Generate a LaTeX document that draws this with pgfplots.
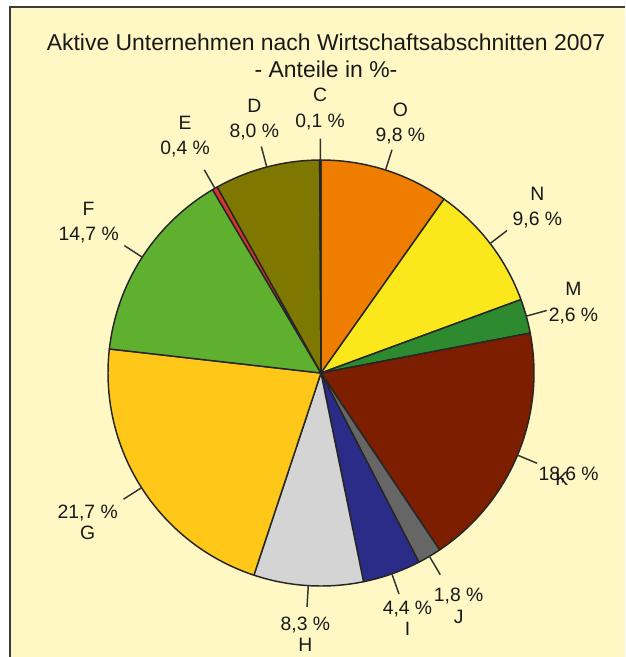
\documentclass[border=0pt]{standalone}
\usepackage{pgfplots}
\usepackage{pgfplotstable}
\pgfplotsset{compat=1.18}
\usepgfplotslibrary{polar}
\usepackage{fontspec}
\setmainfont{Liberation Sans}

\definecolor{bgyel}{HTML}{FFF8C5}
\definecolor{frame}{HTML}{3C3C3C}
\definecolor{cO}{HTML}{EE7D00}
\definecolor{cN}{HTML}{FAE81C}
\definecolor{cM}{HTML}{2E8A2E}
\definecolor{cK}{HTML}{7D1E00}
\definecolor{cJ}{HTML}{666666}
\definecolor{cI}{HTML}{2B2B88}
\definecolor{cH}{HTML}{D4D4D4}
\definecolor{cG}{HTML}{FFC718}
\definecolor{cF}{HTML}{60B030}
\definecolor{cE}{HTML}{D9362B}
\definecolor{cD}{HTML}{7F7800}
\definecolor{cC}{HTML}{1A1A1A}

% name, share in %, colour, label distance (radii), label layout
\pgfplotstableread[col sep=comma]{
name,value,color,lr,mode
O,9.8,cO,1.23,0
N,9.6,cN,1.28,0
M,2.6,cM,1.23,0
K,18.6,cK,1.26,2
J,1.8,cJ,1.27,1
I,4.4,cI,1.22,1
H,8.3,cH,1.23,1
G,21.7,cG,1.30,1
F,14.7,cF,1.30,0
E,0.4,cE,1.28,0
D,8.0,cD,1.23,0
C,0.1,cC,1.24,0
}\pietable

\newcommand\lblfont{\fontsize{14.5}{16}\selectfont\color{black!90}}

\begin{document}
\begin{tikzpicture}[x=0.75pt,y=0.75pt]
\fill[white] (0,0) rectangle (625,657);
\fill[bgyel] (10,0) rectangle (625,650);
\draw[frame, line width=1.3pt] (625,650) -- (10,650) -- (10,0);
\node[font=\fontsize{17.2}{20}\selectfont, color=black!90, align=center] at (326,601)
  {Aktive Unternehmen nach Wirtschaftsabschnitten 2007\\- Anteile in \%-};
\begin{polaraxis}[
  hide axis, scale only axis, width=319.5pt, height=319.5pt,
  ymin=0, ymax=1, clip=false,
  at={(240.75pt,213pt)}, anchor=center]
\def\cum{0}
\pgfplotsforeachungrouped \i in {0,...,11}{%
  \pgfplotstablegetelem{\i}{value}\of\pietable \edef\val{\pgfplotsretval}%
  \pgfplotstablegetelem{\i}{color}\of\pietable \edef\col{\pgfplotsretval}%
  \pgfplotstablegetelem{\i}{name}\of\pietable \edef\nm{\pgfplotsretval}%
  \pgfplotstablegetelem{\i}{lr}\of\pietable \edef\lr{\pgfplotsretval}%
  \pgfplotstablegetelem{\i}{mode}\of\pietable \edef\md{\pgfplotsretval}%
  \pgfmathsetmacro\aend{90-3.6*\cum}%
  \pgfmathsetmacro\cum{\cum+\val}%
  \pgfmathsetmacro\astart{90-3.6*\cum}%
  \pgfmathsetmacro\amid{(\astart+\aend)/2}%
  \pgfmathprintnumberto[fixed,precision=1,zerofill,use comma,assume math mode=true]{\val}{\pct}%
  \edef\lbl{\ifcase\md \nm\noexpand\\[3pt]\pct\noexpand~\noexpand\%\or
    \pct\noexpand~\noexpand\%\noexpand\\\nm\or
    \pct\noexpand~\noexpand\%\noexpand\\[-12pt]\noexpand\hspace*{-10pt}\nm\fi}%
  \edef\doit{%
    \noexpand\addplot[draw=black!85, line width=1.1pt, fill=\col, line join=round,
      domain=\astart:\aend, samples=60] {1} -- (axis cs:0,0) -- cycle;
    \noexpand\draw[line width=1.1pt, color=black!80] (axis cs:\amid,1) -- (axis cs:\amid,1.1);
    \noexpand\node[align=center, font=\noexpand\lblfont, inner sep=0pt]
      at (axis cs:\amid,\lr) {\unexpanded\expandafter{\lbl}};
  }\doit
}
\end{polaraxis}
\pgfresetboundingbox
\path (0,0) rectangle (625,657);
\end{tikzpicture}
\end{document}
